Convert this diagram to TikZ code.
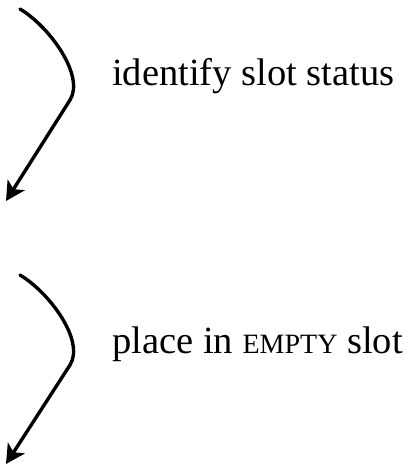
\documentclass[tikz,border=0pt]{standalone}
\usepackage{fontspec}
\setmainfont{Liberation Serif}
\usetikzlibrary{arrows.meta}
\tikzset{
  curvearrow/.style={line width=3.4pt, line cap=round, -{Stealth[length=19pt,width=20pt,inset=5pt]}},
  textlabel/.style={anchor=base west, inner sep=0pt, font=\fontsize{38.5}{42}\selectfont}
}
\begin{document}
\begin{tikzpicture}[x=1pt,y=-1pt]
\useasboundingbox (0,0) rectangle (410,469);
% first arrow
\coordinate (s1) at (20,9);
\coordinate (m1) at (70,100);
\coordinate (e1) at (6,201);
\draw[curvearrow] (s1) .. controls (50,27) and (85,76) .. (m1) -- (e1);
\node[textlabel] (t1) at (112,85) {identify slot status};
% second arrow
\coordinate (s2) at (20,275);
\coordinate (m2) at (70,365);
\coordinate (e2) at (6,464);
\draw[curvearrow] (s2) .. controls (50,293) and (85,341) .. (m2) -- (e2);
\node[textlabel] (t2) at (112,353) {place in {\fontsize{28}{30}\selectfont EMPTY} slot};
\end{tikzpicture}
\end{document}
